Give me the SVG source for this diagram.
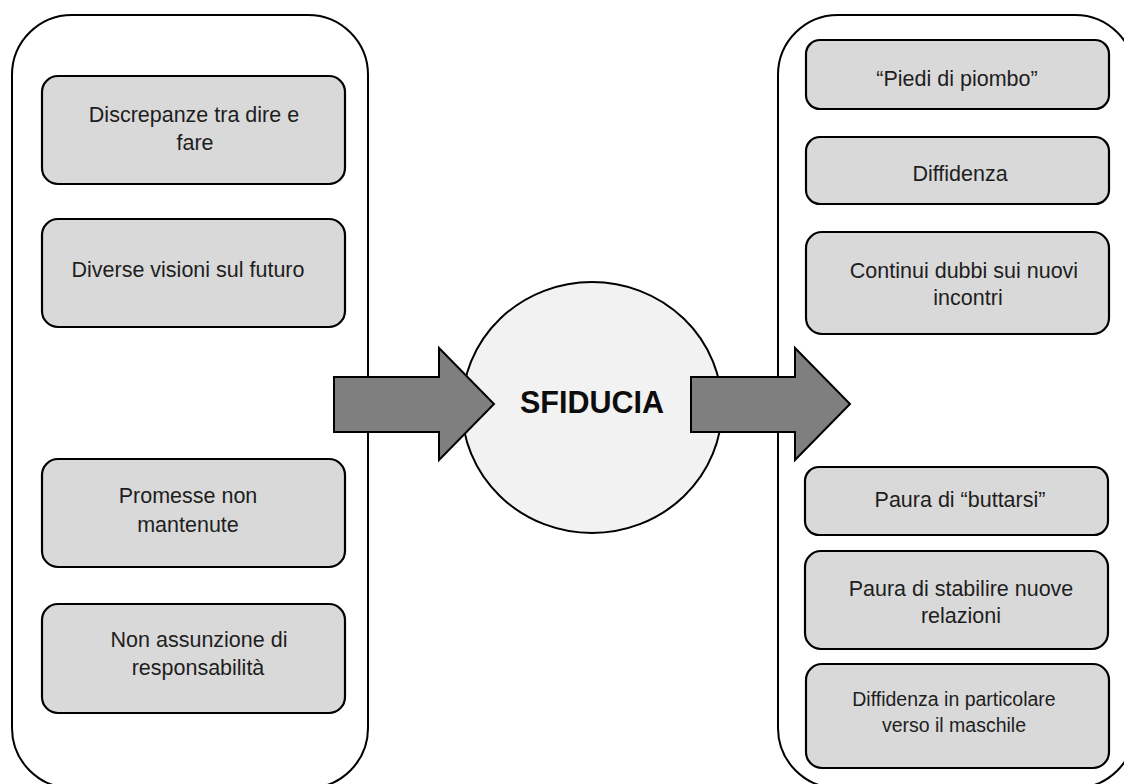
<svg xmlns="http://www.w3.org/2000/svg" width="1124" height="784" viewBox="0 0 1124 784">
  <style>
    .container { fill: #ffffff; stroke: #000000; stroke-width: 2; }
    .box { fill: #d9d9d9; stroke: #000000; stroke-width: 2.2; }
    .txt { font-family: "Liberation Sans", Arial, sans-serif; font-size: 21.5px; fill: #1e1e1e; text-anchor: middle; }
    .small { font-size: 19.5px; }
    .core { fill: #f2f2f2; stroke: #000000; stroke-width: 2; }
    .coretxt { font-family: "Liberation Sans", Arial, sans-serif; font-size: 30.5px; font-weight: bold; fill: #0d0d0d; text-anchor: middle; }
    .arrow { fill: #7f7f7f; stroke: #000000; stroke-width: 2; stroke-linejoin: miter; }
  </style>
  <rect width="1124" height="784" fill="#ffffff"/>

  <g id="left-panel">
    <rect class="container" x="12" y="15" width="356" height="773" rx="60" ry="60"/>
  </g>
  <g id="right-panel">
    <rect class="container" x="778" y="15" width="357" height="773" rx="60" ry="60"/>
  </g>

  <g id="cause-1">
    <rect class="box" x="42" y="76" width="303" height="108" rx="16"/>
    <text class="txt" x="194" y="122">Discrepanze tra dire e</text>
    <text class="txt" x="195" y="150">fare</text>
  </g>
  <g id="cause-2">
    <rect class="box" x="42" y="219" width="303" height="108" rx="16"/>
    <text class="txt" x="188" y="277">Diverse visioni sul futuro</text>
  </g>
  <g id="cause-3">
    <rect class="box" x="42" y="459" width="303" height="108" rx="16"/>
    <text class="txt" x="188" y="503">Promesse non</text>
    <text class="txt" x="188" y="532">mantenute</text>
  </g>
  <g id="cause-4">
    <rect class="box" x="42" y="604" width="303" height="109" rx="16"/>
    <text class="txt" x="199" y="647">Non assunzione di</text>
    <text class="txt" x="198" y="675">responsabilità</text>
  </g>

  <g id="sfiducia">
    <ellipse class="core" cx="592" cy="407.5" rx="130" ry="125.5"/>
    <text class="coretxt" x="592" y="413">SFIDUCIA</text>
  </g>

  <g id="effect-1">
    <rect class="box" x="806" y="40" width="303" height="69" rx="14"/>
    <text class="txt" x="957" y="86">“Piedi di piombo”</text>
  </g>
  <g id="effect-2">
    <rect class="box" x="806" y="137" width="303" height="67" rx="14"/>
    <text class="txt" x="960" y="181">Diffidenza</text>
  </g>
  <g id="effect-3">
    <rect class="box" x="806" y="232" width="303" height="102" rx="16"/>
    <text class="txt" x="964" y="278">Continui dubbi sui nuovi</text>
    <text class="txt" x="968" y="305">incontri</text>
  </g>
  <g id="effect-4">
    <rect class="box" x="805" y="467" width="303" height="68" rx="14"/>
    <text class="txt" x="960" y="507">Paura di “buttarsi”</text>
  </g>
  <g id="effect-5">
    <rect class="box" x="805" y="551" width="303" height="98" rx="16"/>
    <text class="txt" x="961" y="596">Paura di stabilire nuove</text>
    <text class="txt" x="961" y="623">relazioni</text>
  </g>
  <g id="effect-6">
    <rect class="box" x="806" y="664" width="303" height="104" rx="16"/>
    <text class="txt small" x="954" y="706">Diffidenza in particolare</text>
    <text class="txt small" x="954" y="732">verso il maschile</text>
  </g>

  <g id="connectors">
    <path class="arrow" d="M334,377 H439 V348 L494,404 L439,460 V432 H334 Z"/>
    <path class="arrow" d="M691,377 H795 V348 L850,404 L795,460 V432 H691 Z"/>
  </g>
</svg>
